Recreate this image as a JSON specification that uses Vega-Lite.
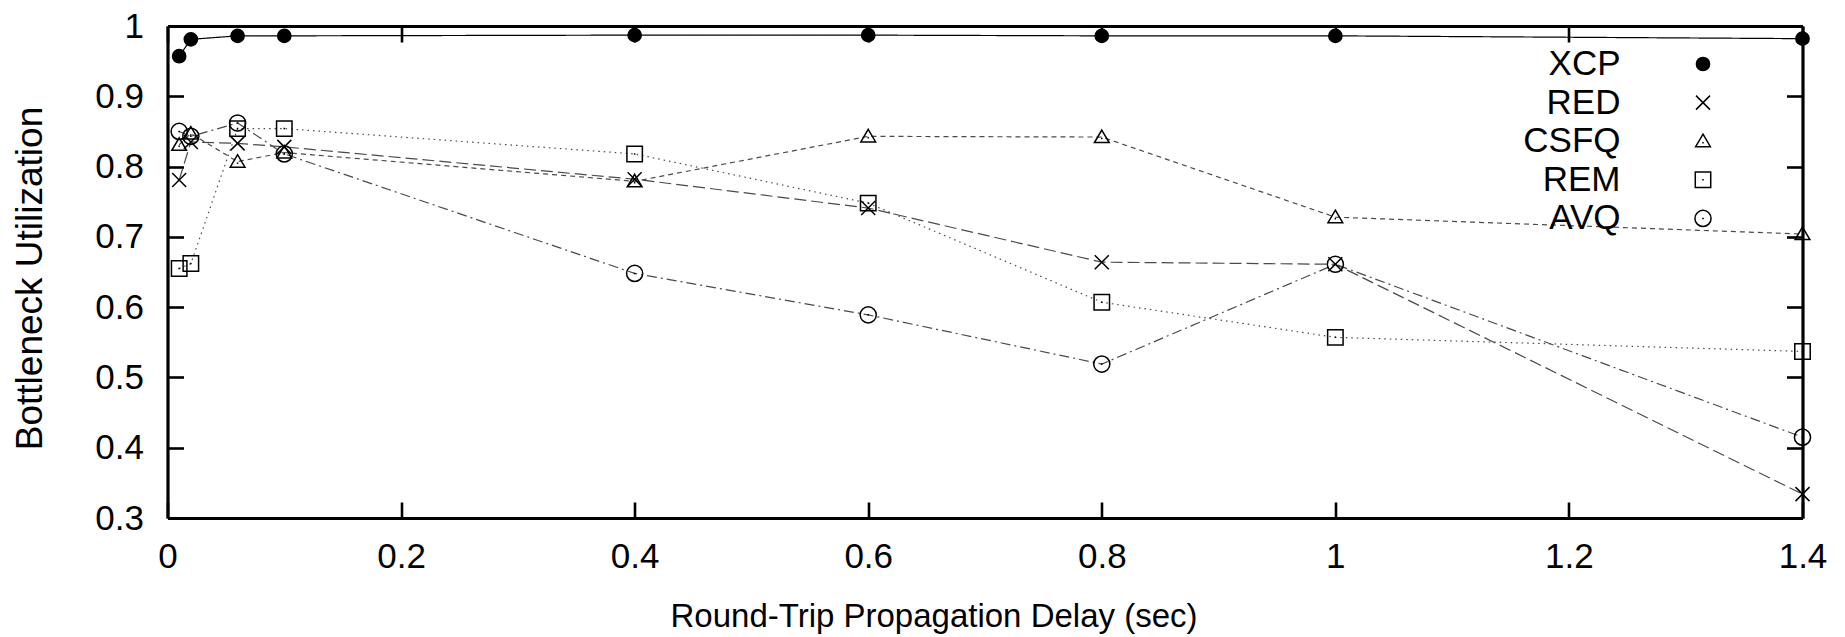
{
  "$schema": "https://vega.github.io/schema/vega-lite/v6.json",
  "autosize": {"type": "none"},
  "width": 1635,
  "height": 492,
  "padding": {"left": 167.5, "top": 26, "right": 42.5, "bottom": 119},
  "background": "white",
  "config": {
    "view": {"stroke": null},
    "font": "Liberation Sans",
    "axis": {"grid": false, "labelFont": "Liberation Sans", "titleFont": "Liberation Sans", "labelFontSize": 35, "titleFontSize": 35, "titleFontWeight": "normal", "labelColor": "black", "titleColor": "black", "tickColor": "black", "domainColor": "black", "domainWidth": 3.2, "tickWidth": 2.6, "tickSize": -16, "zindex": 1, "labelFlush": false, "labelOverlap": false}
  },
  "data": {"values": [
    {"delay": 0.01, "protocol": "XCP", "util": 0.957},
    {"delay": 0.02, "protocol": "XCP", "util": 0.981},
    {"delay": 0.06, "protocol": "XCP", "util": 0.986},
    {"delay": 0.1, "protocol": "XCP", "util": 0.986},
    {"delay": 0.4, "protocol": "XCP", "util": 0.987},
    {"delay": 0.6, "protocol": "XCP", "util": 0.987},
    {"delay": 0.8, "protocol": "XCP", "util": 0.986},
    {"delay": 1.0, "protocol": "XCP", "util": 0.986},
    {"delay": 1.4, "protocol": "XCP", "util": 0.982},
    {"delay": 0.01, "protocol": "RED", "util": 0.781},
    {"delay": 0.02, "protocol": "RED", "util": 0.835},
    {"delay": 0.06, "protocol": "RED", "util": 0.833},
    {"delay": 0.1, "protocol": "RED", "util": 0.828},
    {"delay": 0.4, "protocol": "RED", "util": 0.782},
    {"delay": 0.6, "protocol": "RED", "util": 0.741},
    {"delay": 0.8, "protocol": "RED", "util": 0.664},
    {"delay": 1.0, "protocol": "RED", "util": 0.661},
    {"delay": 1.4, "protocol": "RED", "util": 0.334},
    {"delay": 0.01, "protocol": "CSFQ", "util": 0.831},
    {"delay": 0.02, "protocol": "CSFQ", "util": 0.847},
    {"delay": 0.06, "protocol": "CSFQ", "util": 0.807},
    {"delay": 0.1, "protocol": "CSFQ", "util": 0.820},
    {"delay": 0.4, "protocol": "CSFQ", "util": 0.779},
    {"delay": 0.6, "protocol": "CSFQ", "util": 0.843},
    {"delay": 0.8, "protocol": "CSFQ", "util": 0.842},
    {"delay": 1.0, "protocol": "CSFQ", "util": 0.728},
    {"delay": 1.4, "protocol": "CSFQ", "util": 0.704},
    {"delay": 0.01, "protocol": "REM", "util": 0.655},
    {"delay": 0.02, "protocol": "REM", "util": 0.662},
    {"delay": 0.06, "protocol": "REM", "util": 0.854},
    {"delay": 0.1, "protocol": "REM", "util": 0.854},
    {"delay": 0.4, "protocol": "REM", "util": 0.818},
    {"delay": 0.6, "protocol": "REM", "util": 0.748},
    {"delay": 0.8, "protocol": "REM", "util": 0.607},
    {"delay": 1.0, "protocol": "REM", "util": 0.557},
    {"delay": 1.4, "protocol": "REM", "util": 0.537},
    {"delay": 0.01, "protocol": "AVQ", "util": 0.850},
    {"delay": 0.02, "protocol": "AVQ", "util": 0.843},
    {"delay": 0.06, "protocol": "AVQ", "util": 0.862},
    {"delay": 0.1, "protocol": "AVQ", "util": 0.818},
    {"delay": 0.4, "protocol": "AVQ", "util": 0.648},
    {"delay": 0.6, "protocol": "AVQ", "util": 0.589},
    {"delay": 0.8, "protocol": "AVQ", "util": 0.519},
    {"delay": 1.0, "protocol": "AVQ", "util": 0.661},
    {"delay": 1.4, "protocol": "AVQ", "util": 0.415}
  ]},
  "resolve": {"axis": {"x": "independent", "y": "independent"}},
  "layer": [
    {
      "mark": {"type": "line", "clip": false},
      "encoding": {
        "x": {"field": "delay", "type": "quantitative", "scale": {"domain": [0, 1.4], "nice": false, "zero": false},
          "axis": {"orient": "bottom", "values": [0, 0.2, 0.4, 0.6, 0.8, 1, 1.2, 1.4], "format": "~g", "labelPadding": 37, "title": "Round-Trip Propagation Delay (sec)", "titleFontSize": 33, "titlePadding": 26, "titleX": 766, "titleAlign": "center"}},
        "y": {"field": "util", "type": "quantitative", "scale": {"domain": [0.3, 1], "nice": false, "zero": false},
          "axis": {"orient": "left", "values": [0.3, 0.4, 0.5, 0.6, 0.7, 0.8, 0.9, 1], "format": "~g", "labelPadding": 40, "title": "Bottleneck Utilization", "titleFontSize": 37, "titlePadding": 45, "titleY": 252, "titleAlign": "center"}},
        "detail": {"field": "protocol", "type": "nominal"},
        "stroke": {"field": "protocol", "type": "nominal", "legend": null,
          "scale": {"domain": ["AVQ", "REM", "CSFQ", "RED", "XCP"], "range": ["#4a4a4a", "#4a4a4a", "#4a4a4a", "#4a4a4a", "#000000"]}},
        "strokeDash": {"field": "protocol", "type": "nominal", "legend": null,
          "scale": {"domain": ["AVQ", "REM", "CSFQ", "RED", "XCP"], "range": [[10, 4, 2, 4], [1.5, 4], [5, 4], [12, 5], [1, 0]]}},
        "strokeWidth": {"field": "protocol", "type": "nominal", "legend": null,
          "scale": {"domain": ["AVQ", "REM", "CSFQ", "RED", "XCP"], "range": [1.2, 1.2, 1.2, 1.2, 2.5]}}
      }
    },
    {
      "mark": {"type": "point", "filled": false, "stroke": "black", "strokeWidth": 1.5, "opacity": 1, "clip": false},
      "encoding": {
        "x": {"field": "delay", "type": "quantitative",
          "axis": {"orient": "top", "values": [0, 0.2, 0.4, 0.6, 0.8, 1, 1.2, 1.4], "labels": false, "title": null}},
        "y": {"field": "util", "type": "quantitative",
          "axis": {"orient": "right", "values": [0.3, 0.4, 0.5, 0.6, 0.7, 0.8, 0.9, 1], "labels": false, "title": null}},
        "shape": {"field": "protocol", "type": "nominal",
          "scale": {"domain": ["XCP", "RED", "CSFQ", "REM", "AVQ"], "range": ["circle", "M-1,-1L1,1M-1,1L1,-1", "M0,-0.95L1,0.75L-1,0.75Z M-0.1,0.2H0.1", "M-1,-1H1V1H-1Z M-0.1,0H0.1", "M1,0A1,1,0,1,1,-1,0A1,1,0,1,1,1,0Z M-0.1,0H0.1"]},
          "legend": {"orient": "none", "legendX": 1518, "legendY": 20.5, "title": null, "padding": 0, "labelFont": "Liberation Sans", "labelFontSize": 35, "labelColor": "black", "labelAlign": "right", "labelOffset": -100, "rowPadding": 2.6, "symbolStrokeColor": "black", "symbolStrokeWidth": 1.5, "labelLimit": 400}},
        "fill": {"field": "protocol", "type": "nominal",
          "scale": {"domain": ["XCP", "RED", "CSFQ", "REM", "AVQ"], "range": ["#000000", "transparent", "transparent", "transparent", "transparent"]}},
        "size": {"field": "protocol", "type": "nominal",
          "scale": {"domain": ["XCP", "RED", "CSFQ", "REM", "AVQ"], "range": [175, 260, 300, 285, 280]}}
      }
    }
  ]
}
